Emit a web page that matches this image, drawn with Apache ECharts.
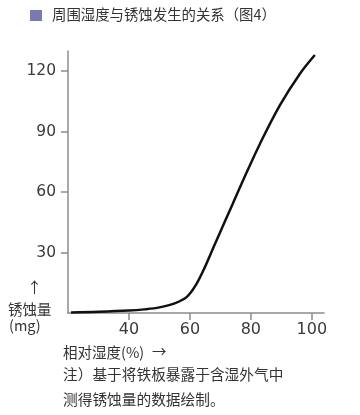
<!DOCTYPE html>
<html><head><meta charset="utf-8">
<script src="https://cdn.jsdelivr.net/npm/echarts@6/dist/echarts.min.js"></script>
<style>html,body{margin:0;padding:0;background:#fff}#c{width:360px;height:415px}</style>
</head><body><div id="c"></div>
<script>
const humidity = [21, 30, 40, 45, 50, 55, 59, 62, 65, 68, 71.5, 74, 77.5, 83, 89.5, 96, 101];
const corrosion = [0.3, 0.6, 1.2, 1.8, 2.8, 4.8, 8, 14, 23, 33.5, 45.5, 54, 66, 84, 103, 118.5, 128];
const xTicks = [40, 60, 80, 100];
const yTicks = [30, 60, 90, 120];
const title = '周围湿度与锈蚀发生的关系（图4）';
const yName = ['锈蚀量', '(mg)'];
const xName = '相对湿度(%)';
const notes = ['注）基于将铁板暴露于含湿外气中', '测得锈蚀量的数据绘制。'];

const F = '"Noto Sans CJK SC", "Noto Sans", sans-serif';
const NF = '"DejaVu Sans", sans-serif';
const chart = echarts.init(document.getElementById('c'), null, {renderer: 'canvas'});
const txt = (x, y, s, size, extra) => Object.assign({type: 'text', left: x, top: y, style: {text: s, font: size + 'px ' + F, fill: '#333'}}, extra || {});
chart.setOption({
  animation: false,
  grid: {left: 68, right: 36, top: 51, bottom: 102},
  xAxis: {
    type: 'value', min: 20, max: 104, interval: 20,
    axisLine: {lineStyle: {color: '#8c8c8c', width: 1.5}},
    axisTick: {show: true, length: 7, lineStyle: {color: '#8c8c8c', width: 1.5},
      customValues: xTicks},
    axisLabel: {margin: 9, fontSize: 16, color: '#3a3a3a', fontFamily: NF,
      customValues: xTicks},
    splitLine: {show: false}
  },
  yAxis: {
    type: 'value', min: 0, max: 130, interval: 30,
    axisLine: {show: true, lineStyle: {color: '#8c8c8c', width: 1.5}},
    axisTick: {show: true, length: 7, lineStyle: {color: '#8c8c8c', width: 1.5},
      customValues: yTicks},
    axisLabel: {margin: 12, fontSize: 15.5, color: '#3a3a3a', fontFamily: NF,
      customValues: yTicks},
    splitLine: {show: false}
  },
  series: [{
    type: 'line', smooth: 0.35, showSymbol: false,
    lineStyle: {color: '#111', width: 2.5},
    data: humidity.map((h, i) => [h, corrosion[i]])
  }],
  graphic: [
    {type: 'rect', left: 30, top: 10, shape: {width: 12, height: 11}, style: {fill: '#7a79b3'}},
    txt(52, 7, title, 14.4),
    txt(27, 280, '↑', 15),
    txt(8, 302, yName[0], 14.5),
    txt(9, 318, yName[1], 14.5),
    txt(63, 345, xName, 14.5),
    txt(152, 344, '→', 14.5),
    txt(63, 367, notes[0], 14.7),
    txt(63, 392, notes[1], 14.7)
  ]
});
</script></body></html>
